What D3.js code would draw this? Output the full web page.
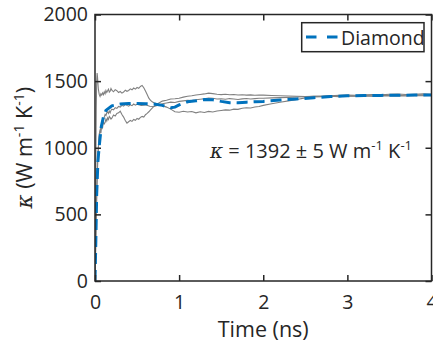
<!DOCTYPE html>
<html><head><meta charset="utf-8">
<script src="https://cdn.jsdelivr.net/npm/d3@7"></script>
<style>
body{margin:0;background:#fff;}
text{font-family:"Open Sans","Noto Sans",sans-serif;fill:#262626;}
</style></head>
<body><div id="chart"></div>
<script>
// ---- data ----
const xTicks = [0, 1, 2, 3, 4];
const yTicks = [0, 500, 1000, 1500, 2000];
const legendLabel = "Diamond";
const annotation = {kappa: 1392, err: 5};

// mean (blue dashed): [time ns, kappa]
const meanSeries = [[0,0],[0.01,300],[0.02,650],[0.035,900],[0.05,1010],[0.075,1160],[0.1,1230],[0.13,1280],[0.2,1315],[0.3,1328],[0.4,1332],[0.5,1333],[0.6,1331],[0.7,1328],[0.8,1318],[0.9,1300],[0.95,1305],[1.0,1322],[1.1,1345],[1.2,1352],[1.3,1362],[1.4,1360],[1.5,1348],[1.6,1338],[1.7,1337],[1.8,1342],[1.9,1345],[2.0,1348],[2.2,1358],[2.4,1366],[2.6,1376],[2.8,1384],[3.0,1390],[3.2,1392],[3.4,1393],[3.6,1394],[3.8,1395],[4.0,1396]];

// run A (spikes high early, lowest around 1-2 ns)
const runA = [[0,0],[0.005,400],[0.01,900],[0.015,1300],[0.02,1500],[0.025,1560],[0.03,1530],[0.035,1480],[0.04,1440],[0.05,1400],[0.06,1385],[0.07,1405],[0.08,1395],[0.09,1412],[0.1,1398],[0.11,1420],[0.12,1405],[0.13,1430],[0.14,1415],[0.15,1428],[0.16,1440],[0.17,1418],[0.18,1425],[0.19,1445],[0.2,1432],[0.22,1420],[0.24,1436],[0.26,1428],[0.28,1415],[0.3,1422],[0.32,1410],[0.34,1418],[0.36,1432],[0.38,1424],[0.4,1430],[0.42,1442],[0.44,1435],[0.46,1448],[0.48,1440],[0.5,1452],[0.52,1446],[0.54,1460],[0.56,1468],[0.58,1450],[0.6,1425],[0.62,1400],[0.64,1372],[0.66,1355],[0.68,1345],[0.7,1338],[0.75,1328],[0.8,1316],[0.85,1305],[0.9,1290],[0.95,1270],[1.0,1266],[1.05,1274],[1.1,1268],[1.15,1272],[1.2,1262],[1.25,1270],[1.3,1265],[1.35,1273],[1.4,1268],[1.45,1276],[1.5,1280],[1.55,1284],[1.6,1282],[1.65,1290],[1.7,1288],[1.75,1296],[1.8,1300],[1.85,1298],[1.9,1306],[1.95,1310],[2.0,1318],[2.1,1330],[2.2,1342],[2.3,1352],[2.4,1362],[2.5,1374],[2.6,1382],[2.7,1384],[2.8,1388],[2.9,1386],[3.0,1390],[3.1,1388],[3.2,1392],[3.3,1389],[3.4,1393],[3.5,1395],[3.6,1392],[3.7,1396],[3.8,1398],[3.9,1395],[4.0,1398]];

// run B (middle)
const runB = [[0,0],[0.01,350],[0.02,700],[0.03,900],[0.04,1000],[0.05,1080],[0.06,1120],[0.07,1150],[0.08,1170],[0.09,1195],[0.1,1210],[0.11,1230],[0.12,1250],[0.13,1242],[0.14,1262],[0.15,1270],[0.16,1258],[0.17,1275],[0.18,1262],[0.19,1280],[0.2,1290],[0.22,1284],[0.24,1300],[0.26,1295],[0.28,1310],[0.3,1305],[0.32,1318],[0.34,1312],[0.36,1325],[0.38,1318],[0.4,1312],[0.42,1322],[0.44,1316],[0.46,1328],[0.48,1320],[0.5,1326],[0.55,1318],[0.6,1322],[0.65,1312],[0.7,1310],[0.75,1320],[0.8,1330],[0.85,1336],[0.9,1342],[0.95,1340],[1.0,1348],[1.05,1352],[1.1,1356],[1.15,1354],[1.2,1360],[1.25,1364],[1.3,1368],[1.35,1373],[1.4,1371],[1.45,1366],[1.5,1368],[1.55,1364],[1.6,1369],[1.65,1366],[1.7,1362],[1.75,1367],[1.8,1370],[1.85,1366],[1.9,1369],[1.95,1372],[2.0,1371],[2.1,1374],[2.2,1376],[2.3,1378],[2.4,1381],[2.5,1383],[2.6,1386],[2.7,1388],[2.8,1390],[2.9,1393],[3.0,1396],[3.1,1394],[3.2,1398],[3.3,1400],[3.4,1397],[3.5,1401],[3.6,1403],[3.7,1400],[3.8,1402],[3.9,1404],[4.0,1401]];

// run C (low early, highest around 1-2 ns)
const runC = [[0,0],[0.01,300],[0.02,600],[0.03,850],[0.04,1000],[0.05,1100],[0.06,1130],[0.07,1110],[0.08,1165],[0.09,1150],[0.1,1195],[0.11,1180],[0.12,1190],[0.13,1215],[0.14,1200],[0.15,1225],[0.16,1212],[0.17,1235],[0.18,1226],[0.19,1215],[0.2,1222],[0.22,1245],[0.24,1238],[0.26,1258],[0.28,1262],[0.3,1274],[0.32,1250],[0.34,1230],[0.36,1205],[0.38,1185],[0.4,1195],[0.42,1205],[0.44,1198],[0.46,1212],[0.48,1206],[0.5,1220],[0.52,1214],[0.54,1228],[0.56,1235],[0.58,1230],[0.6,1248],[0.62,1258],[0.64,1270],[0.66,1285],[0.68,1298],[0.7,1310],[0.75,1332],[0.8,1350],[0.85,1356],[0.9,1366],[0.95,1368],[1.0,1372],[1.05,1380],[1.1,1386],[1.15,1390],[1.2,1396],[1.25,1400],[1.3,1404],[1.35,1410],[1.4,1406],[1.45,1402],[1.5,1399],[1.55,1402],[1.6,1398],[1.65,1400],[1.7,1396],[1.75,1398],[1.8,1395],[1.85,1397],[1.9,1394],[1.95,1396],[2.0,1395],[2.1,1392],[2.2,1390],[2.3,1388],[2.4,1386],[2.5,1385],[2.6,1386],[2.7,1385],[2.8,1386],[2.9,1384],[3.0,1388],[3.1,1386],[3.2,1389],[3.3,1387],[3.4,1390],[3.5,1388],[3.6,1391],[3.7,1389],[3.8,1392],[3.9,1390],[4.0,1393]];

// ---- layout ----
const W = 433, H = 345;
const L = 95, R = 431.5, T = 14.5, B = 281;
const ink = "#262626";

const svg = d3.select("#chart").append("svg").attr("width", W).attr("height", H);
const x = d3.scaleLinear().domain([0, 4]).range([L, R]);
const y = d3.scaleLinear().domain([0, 2000]).range([B, T]);

svg.append("clipPath").attr("id", "clip").append("rect")
  .attr("x", L).attr("y", T).attr("width", R - L).attr("height", B - T);

const line = d3.line().x(d => x(d[0])).y(d => y(d[1]));

const g = svg.append("g").attr("clip-path", "url(#clip)");
[runA, runB, runC].forEach(s => {
  g.append("path").datum(s).attr("d", line)
    .attr("fill", "none").attr("stroke", "#808080").attr("stroke-width", 1.1);
});
g.append("path").datum(meanSeries).attr("d", line)
  .attr("fill", "none").attr("stroke", "#0072BD").attr("stroke-width", 3)
  .attr("stroke-dasharray", "11,6");

// axes
const fs = 19.5;
function style(sel) {
  sel.select(".domain").remove();
  sel.selectAll("line").attr("stroke", ink).attr("stroke-width", 1.5);
  sel.selectAll("text").attr("font-size", fs).attr("fill", ink)
    .attr("font-family", '"Open Sans","Noto Sans",sans-serif');
}
svg.append("g").attr("transform", `translate(0,${B})`)
  .call(d3.axisBottom(x).tickValues(xTicks).tickFormat(d3.format("d")).tickSizeInner(-6).tickSizeOuter(0).tickPadding(14))
  .call(style);
svg.append("g").attr("transform", `translate(0,${T})`)
  .call(d3.axisTop(x).tickValues(xTicks).tickFormat("").tickSizeInner(-6).tickSizeOuter(0))
  .call(style);
svg.append("g").attr("transform", `translate(${L},0)`)
  .call(d3.axisLeft(y).tickValues(yTicks).tickFormat(d3.format("d")).tickSizeInner(-6).tickSizeOuter(0).tickPadding(7))
  .call(style);
svg.append("g").attr("transform", `translate(${R},0)`)
  .call(d3.axisRight(y).tickValues(yTicks).tickFormat("").tickSizeInner(-6).tickSizeOuter(0))
  .call(style);

svg.append("rect").attr("x", L).attr("y", T).attr("width", R - L).attr("height", B - T)
  .attr("fill", "none").attr("stroke", ink).attr("stroke-width", 1.5);

// axis labels
svg.append("text").attr("x", (L + R) / 2).attr("y", 337).attr("text-anchor", "middle")
  .attr("font-size", 21.5).text("Time (ns)");

const yl = svg.append("text").attr("transform", `translate(32,${(T + B) / 2}) rotate(-90)`)
  .attr("text-anchor", "middle").attr("font-size", 21.5);
yl.append("tspan").attr("font-family", '"DejaVu Serif",serif').attr("font-style", "italic").text("κ");
yl.append("tspan").text(" (W m");
yl.append("tspan").attr("font-size", 14).attr("dy", -8.5).text("-1");
yl.append("tspan").attr("dy", 8.5).text(" K");
yl.append("tspan").attr("font-size", 14).attr("dy", -8.5).text("-1");
yl.append("tspan").attr("dy", 8.5).text(")");

// annotation
const an = svg.append("text").attr("x", 412).attr("y", 158).attr("text-anchor", "end").attr("font-size", 20);
an.append("tspan").attr("font-family", '"DejaVu Serif",serif').attr("font-style", "italic").text("κ");
an.append("tspan").text(` = ${annotation.kappa} ± ${annotation.err} W m`);
an.append("tspan").attr("font-size", 13).attr("dy", -8).text("-1");
an.append("tspan").attr("dy", 8).text(" K");
an.append("tspan").attr("font-size", 13).attr("dy", -8).text("-1");

// legend
svg.append("rect").attr("x", 301.7).attr("y", 22.7).attr("width", 122.3).attr("height", 29)
  .attr("fill", "#fff").attr("stroke", ink).attr("stroke-width", 1.5);
svg.append("line").attr("x1", 306).attr("x2", 337.5).attr("y1", 37).attr("y2", 37)
  .attr("stroke", "#0072BD").attr("stroke-width", 3).attr("stroke-dasharray", "10.5,10.5");
svg.append("text").attr("x", 341).attr("y", 44.5).attr("font-size", 19.5).text(legendLabel);
</script></body></html>
